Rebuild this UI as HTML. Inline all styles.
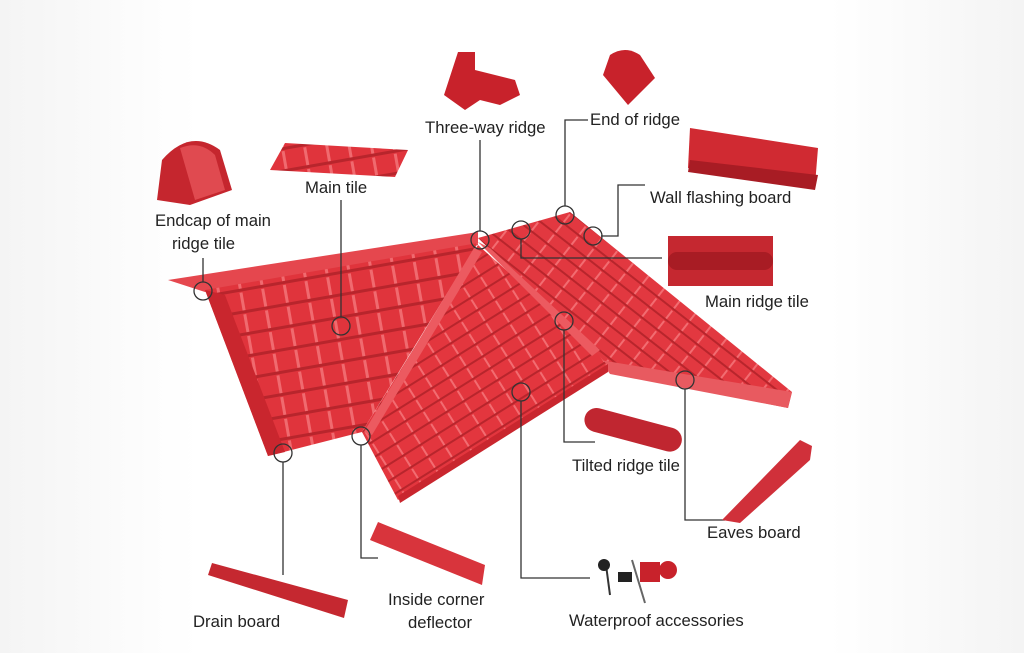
<!DOCTYPE html>
<html><head><meta charset="utf-8"><style>
html,body{margin:0;padding:0;background:#f7f7f7;}
#c{position:relative;width:1024px;height:653px;overflow:hidden;background:linear-gradient(90deg,#f4f4f4 0,#fdfdfd 150px,#fff 200px,#fff 830px,#fcfcfc 880px,#f4f4f4 1024px);}
svg{position:absolute;left:0;top:0}
text{font-family:"Liberation Sans",sans-serif;font-size:16.7px;fill:#222}
</style></head><body><div id="c">
<svg width="1024" height="653" viewBox="0 0 1024 653">
<defs>
<pattern id="tl" width="22" height="22" patternUnits="userSpaceOnUse" patternTransform="rotate(-10)">
<rect width="22" height="22" fill="#e0343c"/>
<rect x="0" y="18" width="22" height="3" fill="#b8252c"/>
<rect x="9" y="0" width="3" height="18" fill="#f06a6f"/>
</pattern>
<pattern id="tc" width="20" height="14" patternUnits="userSpaceOnUse" patternTransform="rotate(-32)">
<rect width="20" height="14" fill="#e3363e"/>
<rect x="0" y="11" width="20" height="2" fill="#b8252c"/>
<rect x="0" y="0" width="2" height="11" fill="#f26c71"/>
</pattern>
<pattern id="tr" width="20" height="13" patternUnits="userSpaceOnUse" patternTransform="rotate(38)">
<rect width="20" height="13" fill="#e23840"/>
<rect x="0" y="10" width="20" height="2" fill="#b8252c"/>
<rect x="0" y="0" width="2" height="10" fill="#f26c71"/>
</pattern>
</defs>
<polygon points="168,280 478,232 478,245 205,292" fill="#e5474e"/>
<polygon points="205,290 478,243 362,432 268,456" fill="url(#tl)"/>
<polygon points="205,290 225,295 285,452 268,456" fill="#c9262e"/>
<polygon points="478,238 570,212 792,392 788,408 610,372 590,345" fill="url(#tr)"/>
<polygon points="600,360 792,392 788,408 610,374" fill="#e85a60"/>
<polygon points="478,245 362,432 398,500 608,366 590,345" fill="url(#tc)"/>
<polygon points="478,242 490,248 600,350 592,356" fill="#ec5a60"/>
<polygon points="474,248 482,252 372,435 364,432" fill="#ec5a60"/>
<polygon points="398,496 608,364 608,372 400,503" fill="#c9262e"/>
<g fill="none" stroke="#333" stroke-width="1.3">
<circle cx="203" cy="291" r="9"/><circle cx="341" cy="326" r="9"/><circle cx="480" cy="240" r="9"/>
<circle cx="521" cy="230" r="9"/><circle cx="565" cy="215" r="9"/><circle cx="593" cy="236" r="9"/>
<circle cx="564" cy="321" r="9"/><circle cx="685" cy="380" r="9"/><circle cx="521" cy="392" r="9"/>
<circle cx="361" cy="436" r="9"/><circle cx="283" cy="453" r="9"/>
<polyline points="203,282 203,258"/>
<polyline points="341,317 341,200"/>
<polyline points="480,231 480,140"/>
<polyline points="565,206 565,120 588,120"/>
<polyline points="601,236 618,236 618,185 645,185"/>
<polyline points="521,239 521,258 662,258"/>
<polyline points="564,330 564,442 595,442"/>
<polyline points="685,389 685,520 725,520"/>
<polyline points="521,401 521,578 590,578"/>
<polyline points="361,445 361,558 378,558"/>
<polyline points="283,462 283,575"/>
</g>
<path d="M157,200 L162,160 Q190,128 220,150 L232,190 L190,205 Z" fill="#c5262e"/>
<path d="M180,148 Q200,140 215,155 L225,190 L195,200 Z" fill="#e04a50"/>
<polygon points="270,170 285,143 408,150 395,177" fill="url(#tl)"/>
<path d="M444,95 L458,52 L475,52 L475,70 L515,80 L520,95 L500,105 L480,100 L465,110 Z" fill="#c8222b"/>
<path d="M603,75 L610,55 Q625,45 640,55 L655,78 L628,105 Z" fill="#c8222b"/>
<polygon points="690,128 818,148 815,185 688,168" fill="#d02a32"/>
<polygon points="690,160 818,175 815,190 688,172" fill="#a81c24"/>
<rect x="668" y="236" width="105" height="50" fill="#c52830"/>
<rect x="668" y="252" width="105" height="18" rx="9" fill="#a81c24"/>
<g transform="rotate(15 630 430)"><rect x="583" y="417" width="100" height="24" rx="12" fill="#c02630"/></g>
<polygon points="722,520 800,440 812,446 810,460 740,523" fill="#d0303a"/>
<polygon points="370,540 378,522 485,565 482,585" fill="#d8343c"/>
<polygon points="208,575 212,563 348,600 344,618" fill="#c52830"/>
<g><line x1="606" y1="565" x2="610" y2="595" stroke="#333" stroke-width="2"/><circle cx="604" cy="565" r="6" fill="#222"/>
<rect x="618" y="572" width="14" height="10" fill="#222"/>
<line x1="632" y1="560" x2="645" y2="603" stroke="#666" stroke-width="2"/>
<rect x="640" y="562" width="20" height="20" fill="#c8222b"/><circle cx="668" cy="570" r="9" fill="#c8222b"/></g>
<text x="155" y="226">Endcap of main</text>
<text x="172" y="249">ridge tile</text>
<text x="305" y="193">Main tile</text>
<text x="425" y="133">Three-way ridge</text>
<text x="590" y="125">End of ridge</text>
<text x="650" y="203">Wall flashing board</text>
<text x="705" y="307">Main ridge tile</text>
<text x="572" y="471">Tilted ridge tile</text>
<text x="707" y="538">Eaves board</text>
<text x="569" y="626">Waterproof accessories</text>
<text x="388" y="605">Inside corner</text>
<text x="408" y="628">deflector</text>
<text x="193" y="627">Drain board</text>
</svg>
</div></body></html>
